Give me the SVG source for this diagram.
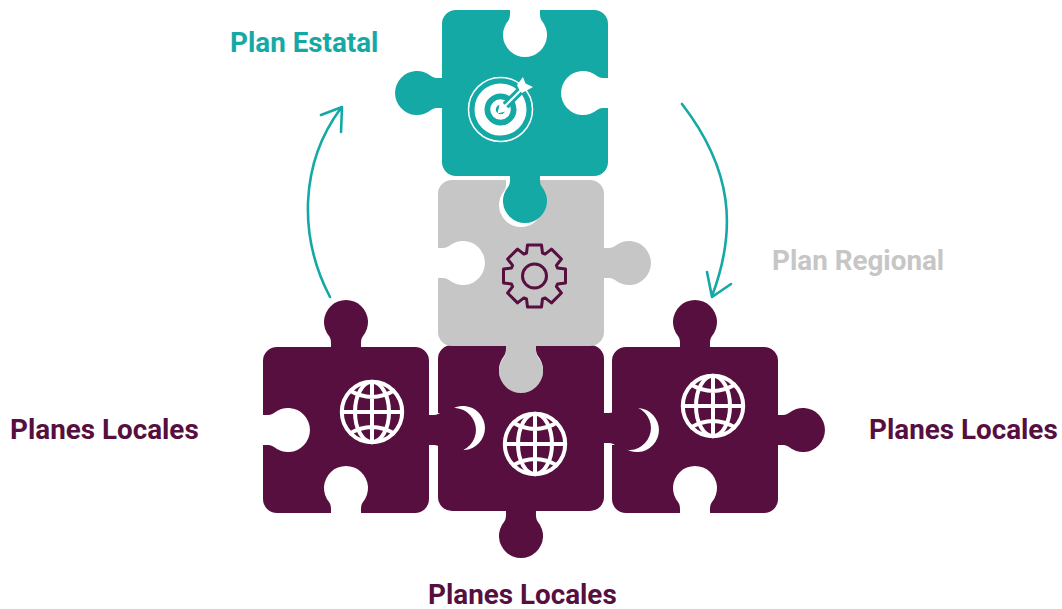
<svg xmlns="http://www.w3.org/2000/svg" width="1062" height="609" viewBox="0 0 1062 609">
<style>
.teal{fill:#14a9a5}.gray{fill:#c6c6c6}.dark{fill:#570f3f}
.lbl{font-family:Roboto,"Liberation Sans",sans-serif;font-weight:700;font-size:27.8px}
.arrow{fill:none;stroke:#14a9a5;stroke-width:2.6;stroke-linecap:round;stroke-linejoin:round}
.gl{fill:none;stroke:#fff;stroke-width:4}
</style>
<defs>
<g id="globe" class="gl">
<circle r="30.2"/>
<ellipse rx="17" ry="30.2"/>
<path d="M0-30V30M-30 0H30M-23-22Q0-8 23-22M-23 22Q0 8 23 22"/>
</g>
</defs>
<rect width="1062" height="609" fill="#fff"/>
<g id="connectors">
<path class="arrow" d="M330 297C298 236 300 163 341 108M321 115L342 107L341 132"/>
<path class="arrow" d="M682 104C733 170 737 230 712 296M707 272L712 297L731 284"/>
</g>
<g id="local-right">
<path class="dark" d="M626 347H680c0-3 .5-8-2-11a22 22 0 1 1 34 0c-2.500 3-2 8-2 11H764a14 14 0 0 1 14 14V415c3 0 8 .5 11-2a22 22 0 1 1 0 34c-3-2.500-8-2-11-2V499a14 14 0 0 1-14 14H710c0-3-.5-8 2-11a22 22 0 1 0-34 0c2.500 3 2 8 2 11H626a14 14 0 0 1-14-14V445c3 0 8-.5 11 2a22 22 0 1 0 0-34c-3 2.500-8 2-11 2V361a14 14 0 0 1 14-14Z"/>
<use href="#globe" x="713" y="406"/>
<text class="lbl dark" x="869" y="439">Planes Locales</text>
</g>
<g id="local-middle">
<path class="dark" d="M452 345H506c0 3 .5 8-2 11a22 22 0 1 0 34 0c-2.500-3-2-8-2-11H590a14 14 0 0 1 14 14V413c3 0 8 .5 11-2a22 22 0 1 1 0 34c-3-2.500-8-2-11-2V497a14 14 0 0 1-14 14H536c0 3-.5 8 2 11a22 22 0 1 1-34 0c2.500-3 2-8 2-11H452a14 14 0 0 1-14-14V443c3 0 8-.5 11 2a22 22 0 1 0 0-34c-3 2.500-8 2-11 2V359a14 14 0 0 1 14-14Z"/>
<use href="#globe" x="535" y="444"/>
<text class="lbl dark" x="428" y="604">Planes Locales</text>
</g>
<g id="local-left">
<path class="dark" d="M277 347H331c0-3 .5-8-2-11a22 22 0 1 1 34 0c-2.500 3-2 8-2 11H415a14 14 0 0 1 14 14V415c3 0 8 .5 11-2a22 22 0 1 1 0 34c-3-2.500-8-2-11-2V499a14 14 0 0 1-14 14H361c0-3-.5-8 2-11a22 22 0 1 0-34 0c2.500 3 2 8 2 11H277a14 14 0 0 1-14-14V445c3 0 8-.5 11 2a22 22 0 1 0 0-34c-3 2.500-8 2-11 2V361a14 14 0 0 1 14-14Z"/>
<use href="#globe" x="372" y="412"/>
<text class="lbl dark" x="10" y="439">Planes Locales</text>
</g>
<g id="plan-regional">
<path class="gray" d="M452 180H506c0 3 .5 8-2 11a22 22 0 1 0 34 0c-2.500-3-2-8-2-11H590a14 14 0 0 1 14 14V248c3 0 8 .5 11-2a22 22 0 1 1 0 34c-3-2.500-8-2-11-2V332a14 14 0 0 1-14 14H536c0 3-.5 8 2 11a22 22 0 1 1-34 0c2.500-3 2-8 2-11H452a14 14 0 0 1-14-14V278c3 0 8-.5 11 2a22 22 0 1 0 0-34c-3 2.500-8 2-11 2V194a14 14 0 0 1 14-14Z"/>
<g transform="translate(534.500 276)" fill="none" stroke="#570f3f" stroke-width="3" stroke-linejoin="round">
<path d="M-8-23L-7-31H7L8-23L10.600-21.900L17-26.900L26.900-17L21.900-10.600L23-8L31-7V7L23 8L21.900 10.600L26.900 17L17 26.900L10.600 21.900L8 23L7 31H-7L-8 23L-10.600 21.900L-17 26.900L-26.900 17L-21.900 10.600L-23 8L-31 7V-7L-23-8L-21.900-10.600L-26.900-17L-17-26.900L-10.600-21.900Z"/>
<circle r="12"/>
</g>
<text class="lbl gray" x="772" y="269.500">Plan Regional</text>
</g>
<g id="plan-estatal">
<path class="teal" d="M456 10H510c0 3 .5 8-2 11a22 22 0 1 0 34 0c-2.500-3-2-8-2-11H594a14 14 0 0 1 14 14V78c-3 0-8 .5-11-2a22 22 0 1 0 0 34c3-2.500 8-2 11-2V162a14 14 0 0 1-14 14H540c0 3-.5 8 2 11a22 22 0 1 1-34 0c2.500-3 2-8 2-11H456a14 14 0 0 1-14-14V108c-3 0-8-.5-11 2a22 22 0 1 1 0-34c3 2.500 8 2 11 2V24a14 14 0 0 1 14-14Z"/>
<g transform="translate(500.500 109.500)" fill="none">
<circle r="32" stroke="#fff" stroke-width="1.500"/>
<circle r="21" stroke="#fff" stroke-width="10"/>
<circle r="7.500" stroke="#fff" stroke-width="5.500"/>
<path d="M-1 2L32-31" stroke="#14a9a5" stroke-width="8"/>
<path d="M-1 2L24-23" stroke="#fff" stroke-width="2"/>
<path d="M-3 4L0-9L5-4L10 1Z" fill="#fff"/>
<path d="M16.500-24.500L22.500-32.500L25-26L32.500-22.500L21.500-16.500L19-19Z" fill="#fff"/>
</g>
<text class="lbl teal" x="230" y="52">Plan Estatal</text>
</g>
</svg>
